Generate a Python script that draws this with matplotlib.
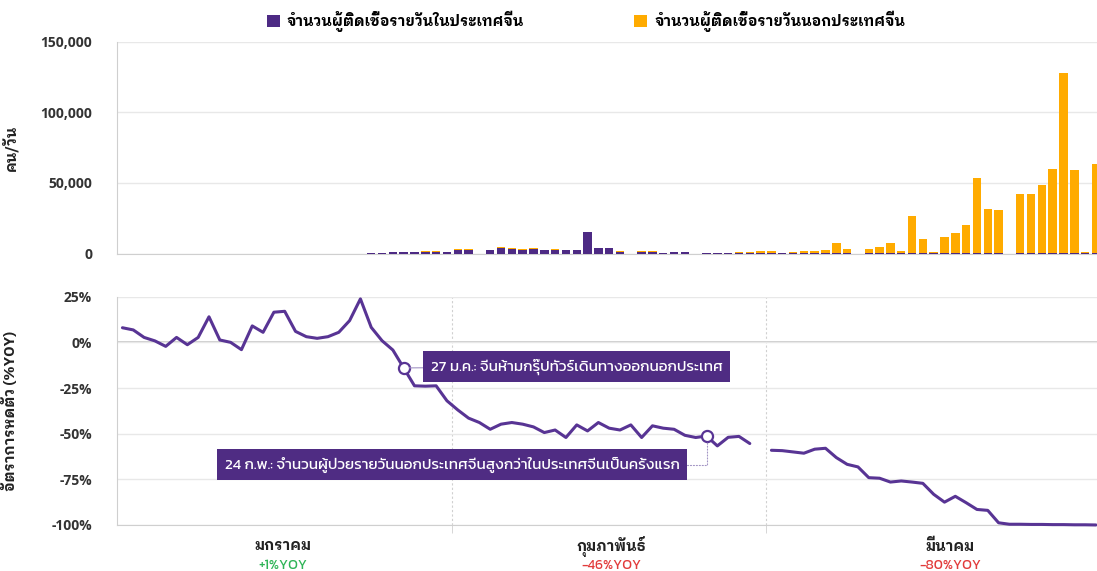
import numpy as np
import pandas as pd
import matplotlib
matplotlib.use('Agg')
from matplotlib import pyplot as plt
from matplotlib import font_manager
from matplotlib.ft2font import FT2Font

# fonts with Thai glyphs
thai_fams = []
for f in font_manager.fontManager.ttflist:
    try:
        if 0x0E08 in FT2Font(f.fname).get_charmap() and f.name not in thai_fams:
            thai_fams.append(f.name)
    except Exception:
        pass

def pick(prefs):
    for p in prefs:
        if p in thai_fams:
            return [p]
    return thai_fams[:1]

thai_bold = pick(['IBM Plex Sans Thai Looped', 'IBM Plex Sans Thai', 'Noto Sans Thai Looped'])
thai_light = pick(['Kanit', 'Prompt', 'Noto Sans Thai'])
plt.rcParams['font.family'] = ['Open Sans'] + thai_bold + ['DejaVu Sans']
bold_family = thai_bold + ['Open Sans', 'DejaVu Sans']
note_family = thai_light + ['Open Sans', 'DejaVu Sans']

# ---- data ----
days = pd.date_range('2020-01-01', '2020-03-31')

# daily change (%YOY), one value per day, None = no data
yoy = [8, 6.8, 2.7, 0.8, -2.2, 2.7, -1.3, 2.7, 14, 1.3,
       0, -4, 9, 5.5, 16.5, 17, 6, 3.1, 2.2, 3.1,
       5.5, 11.9, 23.8, 8.2, 0.9, -4.2, -14, -23.8, -24, -23.8,
       -32, -37, -41.5, -43.9, -47.6, -44.8, -43.9, -44.8, -46.3, -49.4,
       -48, -52.1, -45.2, -48.5, -43.9, -47, -48, -45.2, -52.1, -45.7,
       -47, -47.6, -50.9, -52.1, -51.3, -56.7, -52, -51.5, -55.4, None,
       -59.1, -59.3, -60, -60.7, -58.5, -58, -63.1, -66.8, -68.2, -74.1,
       -74.4, -76.5, -75.9, -76.5, -77.2, -83.2, -87.5, -84.3, -87.8, -91.5,
       -92, -98.8, -99.6, -99.6, -99.7, -99.7, -99.8, -99.8, -99.9, -99.9,
       -100]

# daily new cases from 24 Jan, NaN = no bar
bar_start = 23
nan = np.nan
in_china = [200, 200, 1100, 1100, 1100, 1400, 1400, 1100, 2700, 2700,
            nan, 2200, 3900, 3200, 2800, 3200, 2200, 2800, 2200, 2200,
            15000, 3700, 3700, 1400, nan, 1400, 1400, 300, 900, 1000,
            nan, 200, 200, 200, 300, 300, 200, 200, 100, 100,
            100, 100, 100, 100, 100, nan, 100, 100, 100, 100,
            100, 100, 100, 100, 100, 100, 100, 100, 100, nan,
            100, 100, 100, 100, 100, 100, 100, 100]
out_china = [300, 300, 200, 200, 200, 300, 300, 300, 400, 400,
             nan, 300, 500, 400, 400, 400, 300, 400, 300, 300,
             500, 400, 400, 300, nan, 300, 300, 300, 400, 300,
             nan, 400, 400, 400, 700, 700, 1800, 1800, 400, 1200,
             1900, 1900, 2400, 7100, 3300, nan, 2900, 4200, 7100, 1900,
             26800, 10300, 1200, 11300, 14600, 20400, 53300, 31700, 30500, nan,
             41800, 42300, 48600, 59900, 127900, 58700, 900, 63400]

months = ['มกราคม', 'กุมภาพันธ์', 'มีนาคม']
month_yoy = ['+1%YOY', '-46%YOY', '-80%YOY']
month_pos = [14.8, 45.2, 76.5]
month_edges = [30.5, 59.5]

legend_labels = ['จำนวนผู้ติดเชื้อรายวันในประเทศจีน', 'จำนวนผู้ติดเชื้อรายวันนอกประเทศจีน']
note1 = '27 ม.ค.: จีนห้ามกรุ๊ปทัวร์เดินทางออกนอกประเทศ'
note2 = '24 ก.พ.: จำนวนผู้ป่วยรายวันนอกประเทศจีนสูงกว่าในประเทศจีนเป็นครั้งแรก'

purple = '#4d2a84'
line_purple = '#583494'
orange = '#ffab00'
grid_c = '#e8e8e8'
spine_c = '#cfcfcf'

x_all = np.arange(len(days))
x_bar = np.arange(bar_start, bar_start + len(in_china))
china = np.array(in_china, dtype=float)
outside = np.array(out_china, dtype=float)
line_y = np.array([np.nan if v is None else v for v in yoy], dtype=float)

fig = plt.figure(figsize=(10.97, 5.71), dpi=100)
ax1 = fig.add_axes([0.1067, 0.556, 0.8933, 0.371])
ax2 = fig.add_axes([0.1067, 0.0806, 0.8933, 0.3998])

# top: stacked daily bars
b1 = ax1.bar(x_bar, china, width=0.78, color=purple, zorder=3)
b2 = ax1.bar(x_bar, outside, width=0.78, bottom=np.nan_to_num(china), color=orange, zorder=3)
ax1.set_xlim(-0.5, 90.1)
ax1.set_ylim(0, 150000)
ax1.set_yticks([0, 50000, 100000, 150000])
ax1.set_yticklabels(['{:,}'.format(v) for v in [0, 50000, 100000, 150000]])
ax1.set_xticks([])
ax1.grid(axis='y', color=grid_c, lw=1, zorder=0)
ax1.set_ylabel('คน/วัน', fontsize=10.5, fontweight='bold', family=bold_family, color='#222222')
ax1.yaxis.set_label_coords(-0.101, 0.5)

# bottom: yoy line
ax2.plot(x_all, line_y, color=line_purple, lw=2.2, solid_joinstyle='round',
         solid_capstyle='round', zorder=4, clip_on=False)
ax2.set_xlim(-0.5, 90.1)
ax2.set_ylim(-100, 25)
ax2.set_yticks([25, 0, -25, -50, -75, -100])
ax2.set_yticklabels(['25%', '0%', '-25%', '-50%', '-75%', '-100%'])
ax2.grid(axis='y', color=grid_c, lw=1, zorder=0)
ax2.axhline(0, color='#c4c4c4', lw=1.2, zorder=1)
for e in month_edges:
    ax2.axvline(e, color='#d0d0d0', lw=0.8, ls=(0, (2, 2)), zorder=1)
ax2.set_xticks(month_edges, minor=True)
ax2.tick_params(axis='x', which='minor', length=6, color='#d0d0d0')
ax2.set_xticks([])
ax2.set_ylabel('อัตราการหดตัว (%YOY)', fontsize=10.5, fontweight='bold', family=bold_family,
               color='#222222')
ax2.yaxis.set_label_coords(-0.101, 0.5)

for i in range(3):
    ax2.text(month_pos[i], -111.5, months[i], ha='center', va='center', fontsize=10.5,
             fontweight='bold', family=bold_family, color='#222222', clip_on=False)
    ax2.text(month_pos[i], -122, month_yoy[i], ha='center', va='center', fontsize=10,
             family=note_family, color='#2fb457' if month_yoy[i].startswith('+') else '#e23b3b',
             clip_on=False)

for ax in (ax1, ax2):
    for s in ('top', 'right'):
        ax.spines[s].set_visible(False)
    ax.spines['left'].set_color(spine_c)
    ax.spines['bottom'].set_color(spine_c)
    ax.tick_params(axis='y', length=0, pad=18, labelsize=10, labelcolor='#333333')
    for t in ax.get_yticklabels():
        t.set_fontweight('bold')

# notes
box = dict(boxstyle='square,pad=0.5', fc='#4f2c83', ec='none')
ax2.plot([26, 54], [line_y[26], line_y[54]], 'o', ms=8, mfc='white', mec=line_purple, mew=1.6, zorder=5)
ax2.annotate(note1, xy=(26, line_y[26]), xytext=(42, -13.3), ha='center', va='center',
             fontsize=11, fontweight='normal', family=note_family, color='white', bbox=box, zorder=6,
             arrowprops=dict(arrowstyle='-', color='#a294c4', lw=0.8, shrinkA=0, shrinkB=4))
ax2.annotate(note2, xy=(54, line_y[54]), xytext=(30.5, -67), ha='center', va='center',
             fontsize=11, fontweight='normal', family=note_family, color='white', bbox=box, zorder=6,
             arrowprops=dict(arrowstyle='-', color='#a294c4', lw=0.8, ls=':', shrinkA=0, shrinkB=4,
                             connectionstyle='angle,angleA=0,angleB=90,rad=0'))

fig.legend([b1, b2], legend_labels, loc='center', bbox_to_anchor=(0.534, 0.962), ncol=2,
           frameon=False, handlelength=0.9, handleheight=0.9, handletextpad=0.5,
           columnspacing=7.5, prop={'size': 10.5, 'weight': 'bold', 'family': bold_family})

fig.savefig('out.png', dpi=100)
